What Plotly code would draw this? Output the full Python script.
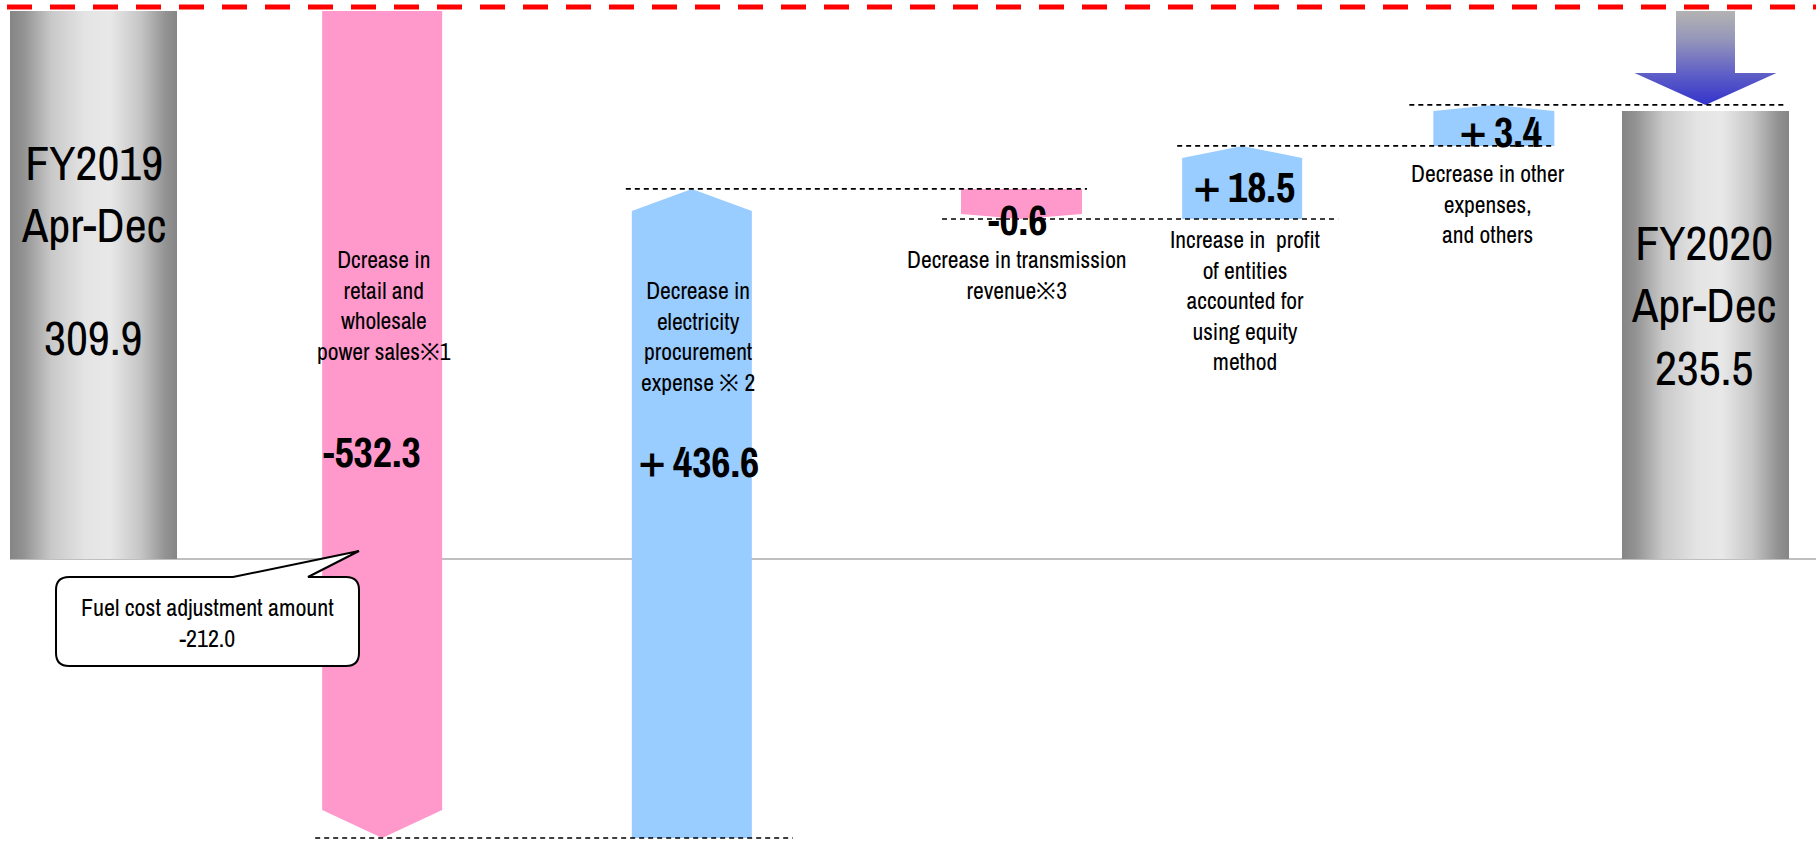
import plotly.graph_objects as go

W, H = 1816, 843

# ---------------- data ----------------
period_labels = ["FY2019<br>Apr-Dec", "FY2020<br>Apr-Dec"]
total_values = [309.9, 235.5]
change_labels = [
    "Dcrease in<br>retail and<br>wholesale<br>power sales※1",
    "Decrease in<br>electricity<br>procurement<br>expense ※ 2",
    "Decrease in transmission<br>revenue※3",
    "Increase in\u00a0 profit<br>of entities<br>accounted for<br>using equity<br>method",
    "Decrease in other<br>expenses,<br>and others",
]
change_values = [-532.3, 436.6, -0.6, 18.5, 3.4]
# running levels as drawn in the (not-to-scale) reference, in chart units (FY2019 = 309.9)
drawn_start = 309.9
drawn_levels = [-157.8, 209.3, 192.3, 233.6, 256.8]
drawn_fy2020 = 253.4
fuel_cost_adjustment = -212.0

# ---------------- styling / layout helpers ----------------
FONT = "Archivo Narrow, Liberation Sans Narrow, Arial Narrow, Liberation Sans, Arial, sans-serif"
PINK = "#FF99CC"
BLUE = "#99CCFF"
PX_PER_Y = 548 / 309.9
Y_ZERO_PX = 559
X0_PX = 93.5
X_STEP_PX = (1705.5 - 93.5) / 6
y_range = [-(H - Y_ZERO_PX) / PX_PER_Y, Y_ZERO_PX / PX_PER_Y]
x_range = [-X0_PX / X_STEP_PX, (W - X0_PX) / X_STEP_PX]


def yu(p):
    return (Y_ZERO_PX - p) / PX_PER_Y


def xu(p):
    return (p - X0_PX) / X_STEP_PX


def dx(p):
    return p / X_STEP_PX


def dy(p):
    return p / PX_PER_Y


x_nudge_px = [0, 20, 61, 122, 74, 57, 0]
bar_width_px = [167, 120, 120, 121, 120, 121, 167]
tip_px = [28, 22, 5, 12, 6]
conn_pad_l = [7, 6, 19, 5, 24]
conn_pad_r = [41, 5, 36, 0, -2]

centers = [i + dx(x_nudge_px[i]) for i in range(7)]
halfw = [dx(w) / 2 for w in bar_width_px]

GRAY_SCALE = [[0, "#858585"], [0.08, "#929292"], [0.25, "#c9c9c9"], [0.45, "#e4e4e4"],
              [0.6, "#e8e8e8"], [0.78, "#c6c6c6"], [0.93, "#939393"], [1, "#858585"]]

fig = go.Figure()

# totals (gradient cylinders)
for idx, top in ((0, drawn_start), (6, drawn_fy2020)):
    c, h = centers[idx], halfw[idx]
    fig.add_trace(go.Scatter(
        x=[c - h, c - h, c + h, c + h, c - h], y=[0, top, top, 0, 0],
        mode="lines", fill="toself", line=dict(width=0, color="rgba(0,0,0,0)"),
        fillgradient=dict(type="horizontal", colorscale=GRAY_SCALE),
        hoverinfo="skip", showlegend=False))

# change bars (chevron shaped)
levels = [drawn_start] + drawn_levels
for i, v in enumerate(change_values):
    idx = i + 1
    c, h = centers[idx], halfw[idx]
    a, b = levels[i], levels[i + 1]
    d = 1 if b > a else -1
    t = dy(tip_px[i])
    xs = [c - h, c - h, c, c + h, c + h, c - h]
    ys = [a, b - d * t, b, b - d * t, a, a]
    fig.add_trace(go.Scatter(
        x=xs, y=ys, mode="lines", fill="toself",
        fillcolor=PINK if v < 0 else BLUE, line=dict(width=0, color="rgba(0,0,0,0)"),
        hoverinfo="skip", showlegend=False))

# result arrow (gradient)
c = centers[6]
tip = drawn_levels[-1]
head_top = tip + dy(32)
sw, hw = dx(59) / 2, dx(142) / 2
fig.add_trace(go.Scatter(
    x=[c - sw, c - sw, c - hw, c, c + hw, c + sw, c + sw, c - sw],
    y=[drawn_start, head_top, head_top, tip, head_top, head_top, drawn_start, drawn_start],
    mode="lines", fill="toself", line=dict(width=0, color="rgba(0,0,0,0)"),
    fillgradient=dict(type="vertical",
                      colorscale=[[0, "#3333CC"], [0.35, "#6262C6"], [0.7, "#9696BA"], [1, "#B3B3B3"]]),
    hoverinfo="skip", showlegend=False))

shapes = []
# baseline
shapes.append(dict(type="line", layer="below", x0=centers[0] - halfw[0], x1=x_range[1], y0=0, y1=0,
                   line=dict(color="#BFBFBF", width=2)))
# previous-year red dashed line
shapes.append(dict(type="line", layer="above", x0=centers[0] - halfw[0] - dx(3), x1=x_range[1],
                   y0=drawn_start + dy(4), y1=drawn_start + dy(4),
                   line=dict(color="#FF0000", width=5, dash="25px,18px")))
# connectors
for j in range(5):
    bi, bn = j + 1, j + 2
    lvl = drawn_levels[j]
    shapes.append(dict(type="line", layer="above",
                       x0=centers[bi] - halfw[bi] - dx(conn_pad_l[j]),
                       x1=centers[bn] + halfw[bn] + dx(conn_pad_r[j]),
                       y0=lvl, y1=lvl, line=dict(color="#000000", width=1.6, dash="5px,4px")))


# callout bubble (paper coords)
def P(xp, yp):
    return f"{xp / W:.5f},{1 - yp / H:.5f}"


bx0, by0, bx1, by1, r = 56, 577, 359, 666, 13
path = (f"M {P(bx0 + r, by0)} L {P(233, by0)} L {P(359, 551)} L {P(308, by0)} L {P(bx1 - r, by0)} "
        f"Q {P(bx1, by0)} {P(bx1, by0 + r)} L {P(bx1, by1 - r)} Q {P(bx1, by1)} {P(bx1 - r, by1)} "
        f"L {P(bx0 + r, by1)} Q {P(bx0, by1)} {P(bx0, by1 - r)} L {P(bx0, by0 + r)} "
        f"Q {P(bx0, by0)} {P(bx0 + r, by0)} Z")
shapes.append(dict(type="path", xref="paper", yref="paper", path=path, layer="above",
                   fillcolor="white", line=dict(color="black", width=2)))

ann = []


def label(x, ypx, text, size, bold=False):
    ann.append(dict(x=x, y=yu(ypx), xref="x", yref="y", text=f"<b>{text}</b>" if bold else text,
                    showarrow=False, xanchor="center", yanchor="middle", align="center",
                    font=dict(family=FONT, size=size, color="black")))


def fmt(v):
    return f"＋{v}" if v > 0 else f"{v}"


# totals
TOT_SIZE = 48
label(centers[0], 193, period_labels[0], TOT_SIZE)
label(centers[0], 337, f"{total_values[0]}", TOT_SIZE)
label(xu(1703), 305, f"{period_labels[1]}<br>{total_values[1]}", TOT_SIZE)

# change descriptions and values
desc_pos = [(384, 305), (698, 336.5), (1017, 274.5), (1245, 300), (1488, 203.5)]
val_pos = [(372, 452), (695, 462), (1017, 220), (1240, 187), (1497, 132)]
for i in range(5):
    label(xu(desc_pos[i][0]), desc_pos[i][1], change_labels[i], 23.5)
    label(xu(val_pos[i][0]), val_pos[i][1], fmt(change_values[i]), 42, bold=True)

# callout text
ann.append(dict(x=207.5 / W, y=1 - 622.5 / H, xref="paper", yref="paper",
                text=f"Fuel cost adjustment amount<br>{fuel_cost_adjustment}",
                showarrow=False, xanchor="center", yanchor="middle", align="center",
                font=dict(family=FONT, size=24, color="black")))

fig.update_layout(
    width=W, height=H, margin=dict(l=0, r=0, t=0, b=0),
    paper_bgcolor="white", plot_bgcolor="white", showlegend=False,
    xaxis=dict(range=x_range, visible=False, fixedrange=True),
    yaxis=dict(range=y_range, visible=False, fixedrange=True),
    shapes=shapes, annotations=ann,
)

fig.write_html("out.html")
